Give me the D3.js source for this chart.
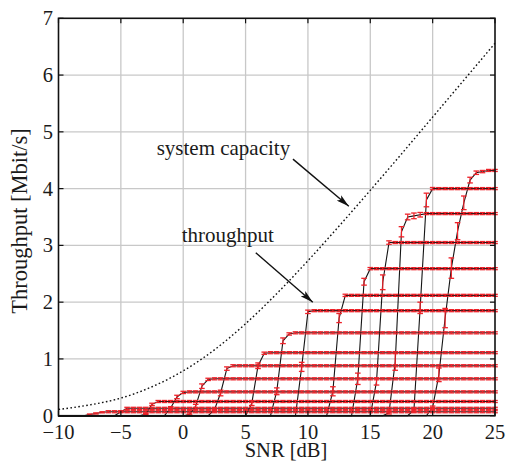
<!DOCTYPE html>
<html>
<head>
<meta charset="utf-8">
<script src="https://cdn.jsdelivr.net/npm/d3@7"></script>
<style>
  body { margin: 0; background: #fff; }
  svg { display: block; }
  text { font-family: "Liberation Serif", "Times New Roman", serif; fill: #1a1a1a; }
</style>
</head>
<body>
<svg id="chart" width="507" height="462"></svg>
<script>
// axis ticks
var xTicks = [-10, -5, 0, 5, 10, 15, 20, 25];
var yTicks = [0, 1, 2, 3, 4, 5, 6, 7];

// system capacity (dotted)
var capSnr = [-10, -7.5, -5, -2.5, 0, 2.5, 5, 7.5, 10, 12.5, 15, 17.5, 20, 22.5, 25];
var capVal = [0.11, 0.19, 0.31, 0.51, 0.79, 1.16, 1.62, 2.15, 2.73, 3.34, 3.97, 4.61, 5.26, 5.91, 6.56];

// throughput curves, one per CQI: plateau level, SNR of first rise point, rise values every 0.5 dB
var plateau   = [0.07, 0.13, 0.25, 0.42, 0.65, 0.88, 1.11, 1.46, 1.85, 2.12, 2.59, 3.05, 3.56, 4.00, 4.32];
var riseStart = [-8.0, -5.5, -3.5, -1.5, 0.0, 2.0, 5.0, 7.0, 9.0, 11.5, 13.5, 15.0, 16.0, 18.0, 19.5];
var riseVals = [
  [0, 0.02, 0.04, 0.06],
  [0, 0.07],
  [0, 0.03, 0.20],
  [0, 0.14, 0.33, 0.41],
  [0, 0.02, 0.17, 0.52, 0.64],
  [0, 0.10, 0.40, 0.83],
  [0, 0.22, 0.88, 1.10],
  [0, 0.43, 1.32, 1.44],
  [0, 0.86, 1.83],
  [0, 0.43, 1.72, 2.12],
  [0, 0.65, 2.36, 2.59],
  [0, 0.60, 2.35, 3.05],
  [0, 0.05, 0.95, 3.24, 3.50, 3.52, 3.54],
  [0, 0.10, 1.90, 3.80, 4.00],
  [0, 0.15, 0.72, 1.72, 2.60, 3.25, 3.75, 4.15, 4.28, 4.30]
];
var riseErr = [
  [0, 0.01, 0.01, 0.01],
  [0, 0.01],
  [0, 0.01, 0.02],
  [0, 0.02, 0.03, 0.02],
  [0, 0.01, 0.03, 0.04, 0.02],
  [0, 0.02, 0.05, 0.03],
  [0, 0.04, 0.05, 0.02],
  [0, 0.06, 0.05, 0.02],
  [0, 0.08, 0.03],
  [0, 0.08, 0.08, 0.02],
  [0, 0.10, 0.06, 0.02],
  [0, 0.06, 0.13, 0.03],
  [0, 0.02, 0.15, 0.09, 0.05, 0.05, 0.04],
  [0, 0.03, 0.10, 0.12, 0.02],
  [0, 0.02, 0.12, 0.17, 0.18, 0.15, 0.12, 0.05, 0.03, 0.02]
];
var plateauErr = 0.018;

// annotations: [text, text x, text y, arrow from x, y, arrow to x, y] in data units
var notes = [
  ["system capacity", -2.13, 4.59, 8.8, 4.52, 13.28, 3.69],
  ["throughput", -0.12, 3.06, 5.82, 2.87, 10.39, 2.0]
];

var svg = d3.select("#chart");
var pLeft = 58.5, pRight = 495, pTop = 18.3, pBottom = 415.7;

var x = d3.scaleLinear().domain([-10, 25]).range([pLeft, pRight]);
var y = d3.scaleLinear().domain([0, 7]).range([pBottom, pTop]);

svg.append("defs").append("marker")
  .attr("id", "arr")
  .attr("viewBox", "0 0 13 7")
  .attr("refX", 13)
  .attr("refY", 3.5)
  .attr("markerWidth", 13)
  .attr("markerHeight", 7)
  .attr("markerUnits", "userSpaceOnUse")
  .attr("orient", "auto")
  .append("path")
  .attr("d", "M0,0L13,3.5L0,7L3,3.5Z")
  .style("fill", "#111");

// grid
var grid = svg.append("g");
grid.selectAll("line.gx").data(xTicks.slice(1, -1)).enter().append("line")
  .attr("x1", function(d) { return x(d); }).attr("x2", function(d) { return x(d); })
  .attr("y1", pTop).attr("y2", pBottom)
  .style("stroke", "#c8c8c8").style("stroke-width", 1.3);
grid.selectAll("line.gy").data(yTicks.slice(1, -1)).enter().append("line")
  .attr("y1", function(d) { return y(d); }).attr("y2", function(d) { return y(d); })
  .attr("x1", pLeft).attr("x2", pRight)
  .style("stroke", "#c8c8c8").style("stroke-width", 1.3);

// capacity curve
svg.append("path")
  .datum(d3.zip(capSnr, capVal))
  .attr("d", d3.line().curve(d3.curveMonotoneX)
    .x(function(d) { return x(d[0]); })
    .y(function(d) { return y(d[1]); }))
  .style("fill", "none")
  .style("stroke", "#111")
  .style("stroke-width", 1.4)
  .style("stroke-dasharray", "1.6,2.4");

// build throughput points
var curves = plateau.map(function(p, i) {
  var pts = riseVals[i].map(function(v, j) {
    return { snr: riseStart[i] + 0.5 * j, v: v, e: riseErr[i][j] };
  });
  var last = pts[pts.length - 1].snr;
  d3.range(last + 0.5, 25.001, 0.5).forEach(function(s) {
    pts.push({ snr: s, v: p, e: plateauErr });
  });
  pts.unshift({ snr: -10, v: 0, e: 0 });
  return pts;
});

var line = d3.line()
  .x(function(d) { return x(d.snr); })
  .y(function(d) { return y(d.v); });

svg.append("g").selectAll("path").data(curves).enter().append("path")
  .attr("d", line)
  .style("fill", "none")
  .style("stroke", "#151515")
  .style("stroke-width", 1.1);

// error bars
var red = "#ee2229";
var bars = svg.append("g");
curves.forEach(function(pts) {
  pts.filter(function(d) { return d.v > 0; }).forEach(function(d) {
    var g = bars.append("g");
    var cx = x(d.snr);
    g.append("line")
      .attr("x1", cx).attr("x2", cx)
      .attr("y1", y(d.v - d.e)).attr("y2", y(d.v + d.e))
      .style("stroke", red).style("stroke-width", 1.2);
    [d.v - d.e, d.v + d.e].forEach(function(b) {
      g.append("line")
        .attr("x1", cx - 2.8).attr("x2", cx + 2.8)
        .attr("y1", y(b)).attr("y2", y(b))
        .style("stroke", red).style("stroke-width", 1.3);
    });
  });
});

// frame and ticks
svg.append("rect")
  .attr("x", pLeft).attr("y", pTop)
  .attr("width", pRight - pLeft).attr("height", pBottom - pTop)
  .style("fill", "none").style("stroke", "#111").style("stroke-width", 1.6);

var tk = svg.append("g").style("stroke", "#111").style("stroke-width", 1.2);
xTicks.forEach(function(t) {
  tk.append("line").attr("x1", x(t)).attr("x2", x(t)).attr("y1", pBottom).attr("y2", pBottom - 5);
  tk.append("line").attr("x1", x(t)).attr("x2", x(t)).attr("y1", pTop).attr("y2", pTop + 5);
});
yTicks.forEach(function(t) {
  tk.append("line").attr("y1", y(t)).attr("y2", y(t)).attr("x1", pLeft).attr("x2", pLeft + 5);
  tk.append("line").attr("y1", y(t)).attr("y2", y(t)).attr("x1", pRight).attr("x2", pRight - 5);
});

// tick labels
svg.append("g").selectAll("text").data(xTicks).enter().append("text")
  .attr("x", function(d) { return x(d); })
  .attr("y", 439)
  .style("text-anchor", "middle")
  .style("font-size", "20.5px")
  .text(function(d) { return d < 0 ? "\u2212" + Math.abs(d) : d; });

svg.append("g").selectAll("text").data(yTicks).enter().append("text")
  .attr("x", 53)
  .attr("y", function(d) { return y(d); })
  .attr("dy", "0.34em")
  .style("text-anchor", "end")
  .style("font-size", "20.5px")
  .text(function(d) { return d; });

// axis titles
svg.append("text")
  .attr("x", 286).attr("y", 456.5)
  .style("text-anchor", "middle")
  .style("font-size", "20.5px")
  .text("SNR [dB]");

svg.append("text")
  .attr("transform", "translate(27,221)rotate(-90)")
  .style("text-anchor", "middle")
  .style("font-size", "22.5px")
  .text("Throughput [Mbit/s]");

// annotations
notes.forEach(function(n) {
  svg.append("text")
    .attr("x", x(n[1])).attr("y", y(n[2]))
    .style("font-size", "21px")
    .text(n[0]);
  svg.append("line")
    .attr("x1", x(n[3])).attr("y1", y(n[4]))
    .attr("x2", x(n[5])).attr("y2", y(n[6]))
    .style("stroke", "#111").style("stroke-width", 1.4)
    .attr("marker-end", "url(#arr)");
});
</script>
</body>
</html>
